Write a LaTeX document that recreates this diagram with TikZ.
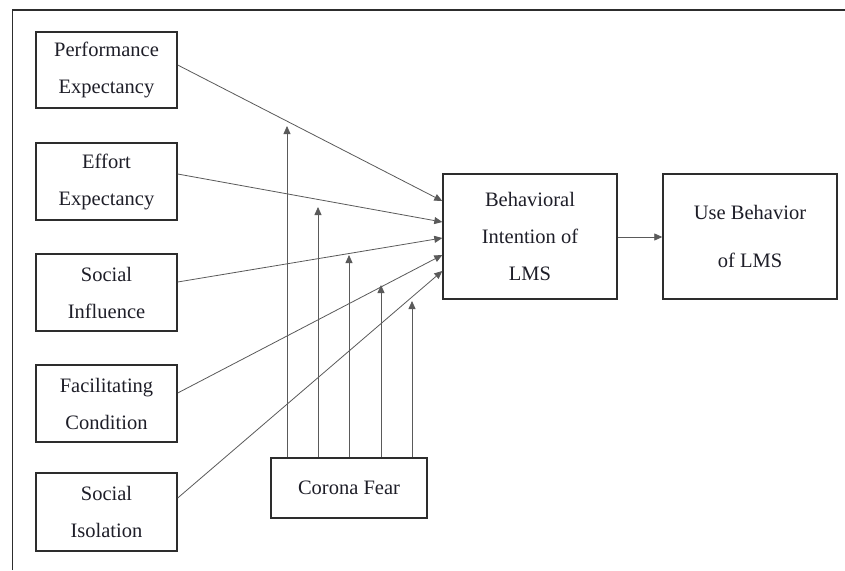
\documentclass[tikz,border=0pt]{standalone}
\usepackage{fontspec}
\setmainfont{Liberation Serif}
\usetikzlibrary{arrows.meta,calc}
\definecolor{boxline}{RGB}{45,45,45}
\definecolor{conn}{RGB}{90,90,90}
\definecolor{txt}{RGB}{30,30,40}
\tikzset{
  box/.style={draw=boxline, line width=1.4pt, fill=white, align=center, inner sep=0pt,
    font=\rmfamily\fontsize{20.5}{37}\selectfont, text=txt},
  conn/.style={draw=conn, line width=0.8pt, -{Triangle[length=8pt,width=7pt]}},
}
\begin{document}
\begin{tikzpicture}[x=1pt,y=-1pt]
\useasboundingbox[fill=white] (0,0) rectangle (845,570);
% outer frame (cut off right and bottom)
\draw[boxline, line width=1.6pt] (12.5,570) -- (12.5,10) -- (845,10);

\node[box, minimum width=141pt, minimum height=76pt] (pe) at (106.5,70) {Performance\\Expectancy};
\node[box, minimum width=141pt, minimum height=77pt] (ee) at (106.5,181.5) {Effort\\Expectancy};
\node[box, minimum width=141pt, minimum height=77pt] (si) at (106.5,292.5) {Social\\Influence};
\node[box, minimum width=141pt, minimum height=77pt] (fc) at (106.5,403.5) {Facilitating\\Condition};
\node[box, minimum width=141pt, minimum height=78pt] (so) at (106.5,512) {Social\\Isolation};
\node[box, minimum width=156pt, minimum height=60pt] (cf) at (349,488) {Corona Fear};
\node[box, minimum width=174pt, minimum height=125pt] (bi) at (530,236.5) {Behavioral\\Intention of\\LMS};
\node[box, minimum width=174pt, minimum height=125pt, font=\rmfamily\fontsize{20.5}{48}\selectfont] (ub) at (750,236.5) {Use Behavior\\of LMS};

% connectors into behavioral intention
\draw[conn] ([yshift=5pt]pe.east) -- ([yshift=35.5pt]bi.west);
\draw[conn] ([yshift=7.5pt]ee.east) -- ([yshift=14.5pt]bi.west);
\draw[conn] ([yshift=10.5pt]si.east) -- ([yshift=-1.5pt]bi.west);
\draw[conn] ([yshift=10.5pt]fc.east) -- ([yshift=-18.5pt]bi.west);
\draw[conn] ([yshift=14pt]so.east) -- ([yshift=-34.5pt]bi.west);
\draw[conn] ([yshift=-0.5pt]bi.east) -- ([yshift=-0.5pt]ub.west);

% moderating arrows from corona fear
\coordinate (m1) at (287,126);
\coordinate (m2) at (318,207);
\coordinate (m3) at (349,255);
\coordinate (m4) at (381,285);
\coordinate (m5) at (412,301);
\draw[conn] (cf.north -| m1) -- (m1);
\draw[conn] (cf.north -| m2) -- (m2);
\draw[conn] (cf.north -| m3) -- (m3);
\draw[conn] (cf.north -| m4) -- (m4);
\draw[conn] (cf.north -| m5) -- (m5);
\end{tikzpicture}
\end{document}
